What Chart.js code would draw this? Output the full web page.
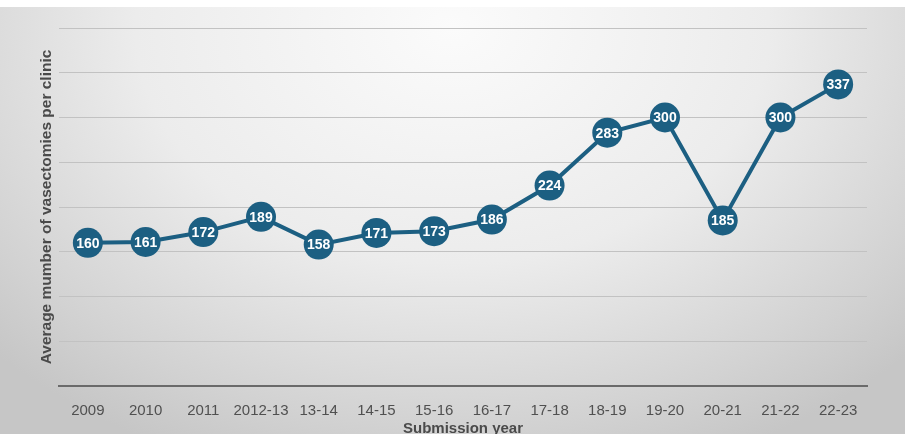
<!DOCTYPE html>
<html>
<head>
<meta charset="utf-8">
<script src="https://cdn.jsdelivr.net/npm/chart.js@4"></script>
<style>
  html, body { margin: 0; padding: 0; background: #fff; }
  #wrap {
    position: absolute; left: 0; top: 7px; width: 905px; height: 427px;
    background: radial-gradient(ellipse 70% 110% at 50% 5%, #fbfbfb 0%, #ececec 50%, #d2d2d2 85%, #c6c6c6 100%);
  }
  canvas { display: block; }
</style>
</head>
<body>
<div id="wrap"><canvas id="chart" width="905" height="427"></canvas></div>
<script>
// Categories and values
const years = ['2009', '2010', '2011', '2012-13', '13-14', '14-15', '15-16', '16-17', '17-18', '18-19', '19-20', '20-21', '21-22', '22-23'];
const avgVasectomies = [160, 161, 172, 189, 158, 171, 173, 186, 224, 283, 300, 185, 300, 337];
const yTicks = [0, 50, 100, 150, 200, 250, 300, 350, 400];

const lineColor = '#1c5f82';

// Draw the value inside each marker (no datalabels plugin available)
const valueLabels = {
    id: 'valueLabels',
    afterDatasetsDraw(chart) {
        const c = chart.ctx;
        const meta = chart.getDatasetMeta(0);
        c.save();
        c.fillStyle = '#ffffff';
        c.font = 'bold 14px "Liberation Sans", Arial, sans-serif';
        c.textAlign = 'center';
        c.textBaseline = 'middle';
        meta.data.forEach((pt, i) => {
            c.fillText(String(avgVasectomies[i]), pt.x, pt.y + 1);
        });
        c.restore();
    }
};

new Chart(document.getElementById('chart').getContext('2d'), {
    type: 'line',
    data: {
        labels: years,
        datasets: [{
            data: avgVasectomies,
            borderColor: lineColor,
            backgroundColor: lineColor,
            borderWidth: 4,
            pointRadius: 15,
            pointBorderWidth: 0,
            pointBackgroundColor: lineColor,
            tension: 0
        }]
    },
    options: {
        responsive: false,
        animation: false,
        // negative bottom padding lets the x title sit partly below the canvas edge, as in the reference
        layout: { padding: { left: 0, right: 38, top: 21, bottom: -4 } },
        plugins: {
            legend: { display: false },
            tooltip: { enabled: false }
        },
        scales: {
            x: {
                offset: true,
                grid: { display: false, drawTicks: false },
                border: { display: true, color: '#6a6a6a', width: 2 },
                ticks: {
                    color: '#505050',
                    font: { family: '"Liberation Sans", Arial, sans-serif', size: 15 },
                    padding: 16,
                    maxRotation: 0,
                    autoSkip: false
                },
                title: {
                    display: true,
                    text: 'Submission year',
                    color: '#4a4a4a',
                    font: { family: '"Liberation Sans", Arial, sans-serif', size: 15, weight: 'bold' },
                    padding: { top: 0, bottom: 0 }
                },
                afterFit(s) { s.height = 52; }
            },
            y: {
                min: 0,
                max: 400,
                afterBuildTicks(s) { s.ticks = yTicks.map(v => ({ value: v })); },
                ticks: { display: false },
                grid: {
                    color: ctx => ctx.tick && ctx.tick.value === 0 ? 'rgba(0,0,0,0)' : '#c2c2c2',
                    lineWidth: 1,
                    drawTicks: false
                },
                border: { display: false },
                title: {
                    display: true,
                    text: 'Average mumber of vasectomies per clinic',
                    color: '#4a4a4a',
                    font: { family: '"Liberation Sans", Arial, sans-serif', size: 15.5, weight: 'bold' },
                    padding: { top: 37, bottom: 0 }
                },
                afterFit(s) { s.width = 59; }
            }
        }
    },
    plugins: [valueLabels]
});
</script>
</body>
</html>
